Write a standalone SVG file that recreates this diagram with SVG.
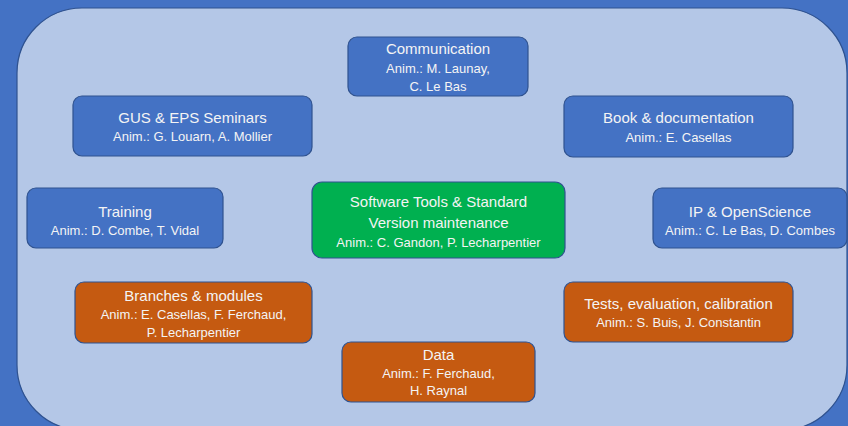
<svg xmlns="http://www.w3.org/2000/svg" width="848" height="426" viewBox="0 0 848 426">
<style>
.box{stroke:#2F528F;stroke-width:1.2}
.blue{fill:#4472C4}
.green{fill:#00B050}
.orange{fill:#C55A11}
text{font-family:"Liberation Sans",Arial,sans-serif;fill:#F4F4F4;text-anchor:middle}
.t{font-size:15px}
.s{font-size:13px}
</style>
<rect x="0" y="0" width="848" height="426" fill="#4472C4"/>
<rect id="panel" x="17" y="8" width="830" height="422" rx="65" ry="65" fill="#B4C7E7" stroke="#2F528F" stroke-width="1.2"/>
<g id="connectors"/>
<g id="communication">
<rect class="box blue" x="348" y="37" width="180" height="59" rx="9"/>
<text class="t" x="438" y="54">Communication</text>
<text class="s" x="438" y="72.5">Anim.: M. Launay,</text>
<text class="s" x="438" y="91">C. Le Bas</text>
</g>
<g id="gus">
<rect class="box blue" x="73" y="96" width="239" height="60" rx="9"/>
<text class="t" x="192.5" y="123">GUS &amp; EPS Seminars</text>
<text class="s" x="192.5" y="141">Anim.: G. Louarn, A. Mollier</text>
</g>
<g id="book">
<rect class="box blue" x="564" y="96" width="229" height="61" rx="9"/>
<text class="t" x="678.5" y="123">Book &amp; documentation</text>
<text class="s" x="678.5" y="141.5">Anim.: E. Casellas</text>
</g>
<g id="training">
<rect class="box blue" x="27" y="188" width="196" height="60" rx="9"/>
<text class="t" x="125" y="217">Training</text>
<text class="s" x="125" y="234.5">Anim.: D. Combe, T. Vidal</text>
</g>
<g id="software">
<rect class="box green" x="312" y="182" width="253" height="76" rx="10"/>
<text class="t" x="438.5" y="207">Software Tools &amp; Standard</text>
<text class="t" x="438.5" y="228">Version maintenance</text>
<text class="s" x="438.5" y="246.5">Anim.: C. Gandon, P. Lecharpentier</text>
</g>
<g id="ip">
<rect class="box blue" x="653" y="188" width="194" height="60" rx="9"/>
<text class="t" x="750" y="217">IP &amp; OpenScience</text>
<text class="s" x="750" y="234.5">Anim.: C. Le Bas, D. Combes</text>
</g>
<g id="branches">
<rect class="box orange" x="75" y="282" width="237" height="61" rx="9"/>
<text class="t" x="193.5" y="301">Branches &amp; modules</text>
<text class="s" x="193.5" y="319">Anim.: E. Casellas, F. Ferchaud,</text>
<text class="s" x="193.5" y="337">P. Lecharpentier</text>
</g>
<g id="tests">
<rect class="box orange" x="564" y="282" width="229" height="60" rx="9"/>
<text class="t" x="678.5" y="309">Tests, evaluation, calibration</text>
<text class="s" x="678.5" y="327">Anim.: S. Buis, J. Constantin</text>
</g>
<g id="data">
<rect class="box orange" x="342" y="342" width="193" height="60" rx="9"/>
<text class="t" x="438.5" y="360">Data</text>
<text class="s" x="438.5" y="378">Anim.: F. Ferchaud,</text>
<text class="s" x="438.5" y="395">H. Raynal</text>
</g>
</svg>
